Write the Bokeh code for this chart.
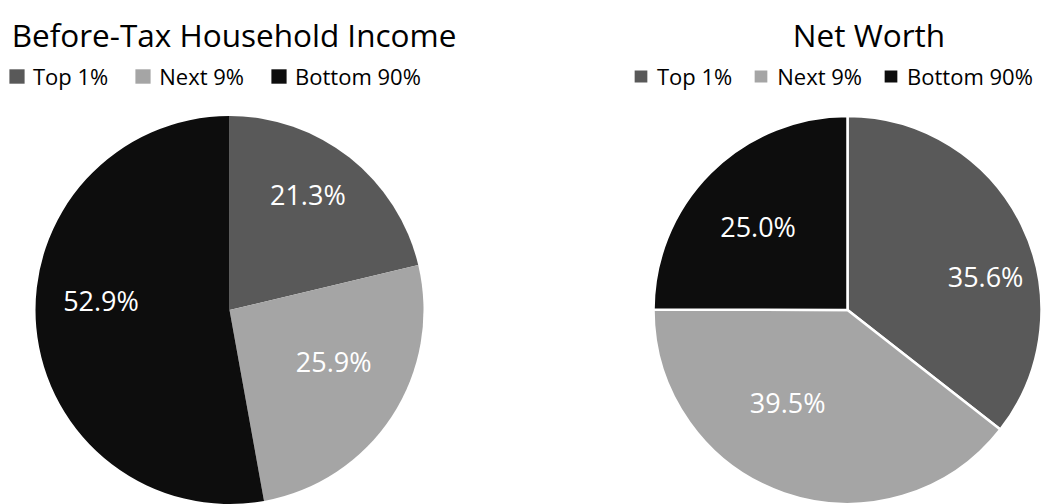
import numpy as np
from bokeh.plotting import figure
from bokeh.models import ColumnDataSource, Legend, LegendItem, Range1d
from bokeh.core.properties import value
from bokeh.embed import file_html
from bokeh.resources import INLINE

# ---- data ----
categories = ["Top 1%", "Next 9%", "Bottom 90%"]
income_share = [21.3, 25.9, 52.9]
networth_share = [35.6, 39.5, 25.0]
titles = ["Before-Tax Household Income", "Net Worth"]

# ---- style ----
colors = ["#595959", "#A5A5A5", "#0D0D0D"]
FONT = "Open Sans"
W, H = 1042, 504
R = 194
R_LABEL = 128

p = figure(width=W, height=H, x_range=Range1d(0, W), y_range=Range1d(0, H),
           output_backend="svg", toolbar_location=None, min_border=0,
           outline_line_color=None, background_fill_color="white",
           border_fill_color="white")
p.axis.visible = False
p.grid.visible = False


def pie(cx, cy, values, border, nudges, title, title_x, legend_x, spacing):
    total = float(sum(values))
    fr = np.array(values) / total
    cum = np.concatenate([[0.0], np.cumsum(fr)])
    start = np.pi / 2 - 2 * np.pi * cum[:-1]
    end = np.pi / 2 - 2 * np.pi * cum[1:]
    mid = (start + end) / 2
    src = ColumnDataSource(dict(
        start=start, end=end, color=colors, cat=categories,
        label=[f"{v:.1f}%" for v in values],
        lx=cx + R_LABEL * np.cos(mid), ly=cy + R_LABEL * np.sin(mid),
        dx=[n[0] for n in nudges], dy=[n[1] for n in nudges],
    ))
    r = p.wedge(x=cx, y=cy, radius=R, start_angle="start", end_angle="end",
                direction="clock", fill_color="color",
                line_color="white" if border else None,
                line_width=2.5 if border else 0, source=src)
    p.text(x="lx", y="ly", text="label", x_offset="dx", y_offset="dy", source=src,
           text_color="white", text_font=value(FONT), text_font_size="27px",
           text_align="center", text_baseline="middle")
    p.text(x=[title_x], y=[H - 34], text=[title], text_color="#000000",
           text_font=value(FONT), text_font_size="31.5px",
           text_align="center", text_baseline="alphabetic")
    leg = Legend(items=[LegendItem(label=c, renderers=[r], index=i)
                        for i, c in enumerate(categories)],
                 orientation="horizontal", location=(legend_x, H - 91),
                 padding=0, margin=0, spacing=spacing, label_standoff=7,
                 glyph_width=19, glyph_height=18,
                 label_text_font=FONT, label_text_font_size="22px",
                 label_text_color="#000000",
                 border_line_alpha=0, background_fill_alpha=0)
    p.add_layout(leg)


pie(229, H - 309.5, income_share, False, [(-1, -15), (-3, -19), (-1, -21)],
    titles[0], 233.5, 7, 25)
pie(847, H - 309.5, networth_share, True, [(23, 23), (-18, -28), (1, 7)],
    titles[1], 868.5, 631, 19)

open("out.html", "w").write(file_html(p, INLINE))
